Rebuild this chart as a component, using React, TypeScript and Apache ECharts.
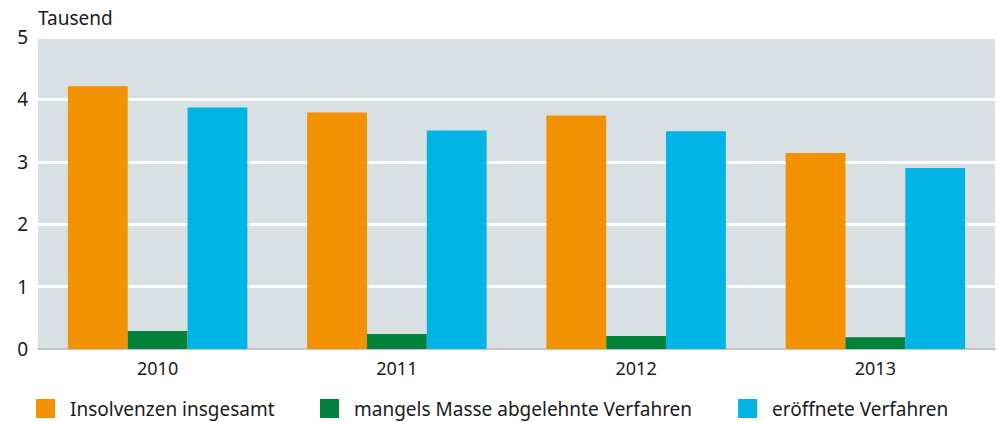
import React, { useEffect, useRef } from "react";
import * as echarts from "echarts";

const categories = ["2010", "2011", "2012", "2013"];
const insgesamt = [4.21, 3.79, 3.74, 3.14];
const mangelsMasse = [0.29, 0.24, 0.21, 0.19];
const eroeffnet = [3.87, 3.5, 3.49, 2.9];
const seriesNames = ["Insolvenzen insgesamt", "mangels Masse abgelehnte Verfahren", "eröffnete Verfahren"];
const colors = ["#f39200", "#00823a", "#00b5e6"];
const FONT = "'Noto Sans', sans-serif";

export default function App() {
  const ref = useRef<HTMLDivElement>(null);
  useEffect(() => {
    if (!ref.current) return;
    const chart = echarts.init(ref.current, null, { renderer: "svg" });
    const legendLefts = [36, 320, 738];
    chart.setOption({
      animation: false,
      textStyle: { fontFamily: FONT },
      grid: { left: 38, right: 3, top: 37, bottom: 73, backgroundColor: "#d9e0e3", show: true, borderWidth: 0 },
      legend: seriesNames.map((n, i) => ({
        data: [n],
        left: legendLefts[i],
        top: 399,
        padding: 0,
        icon: "rect",
        itemWidth: 19,
        itemHeight: 19,
        textStyle: { fontFamily: FONT, fontSize: 19, color: "#1a1a1a", padding: [0, 0, 0, 10] },
      })),
      xAxis: {
        type: "category",
        data: categories,
        axisTick: { show: false },
        axisLine: { lineStyle: { color: "#c6c6c6", width: 2 } },
        axisLabel: { fontFamily: FONT, fontSize: 18, color: "#1a1a1a", margin: 10 },
      },
      yAxis: {
        type: "value",
        min: 0,
        max: 5,
        interval: 1,
        name: "Tausend",
        nameLocation: "end",
        nameGap: 10,
        nameTextStyle: { fontFamily: FONT, fontSize: 19, color: "#1a1a1a", align: "left" },
        axisLine: { show: false },
        axisTick: { show: false },
        axisLabel: { fontFamily: FONT, fontSize: 19, color: "#1a1a1a", margin: 10 },
        splitLine: { lineStyle: { color: "#ffffff", width: 3 } },
      },
      series: [insgesamt, mangelsMasse, eroeffnet].map((d, i) => ({
        name: seriesNames[i],
        type: "bar",
        data: d,
        barGap: "0%",
        barCategoryGap: "25%",
        itemStyle: { color: colors[i] },
      })),
    });
    return () => chart.dispose();
  }, []);
  return <div ref={ref} style={{ width: 998, height: 422, position: "absolute", left: 0, top: 0 }} />;
}
